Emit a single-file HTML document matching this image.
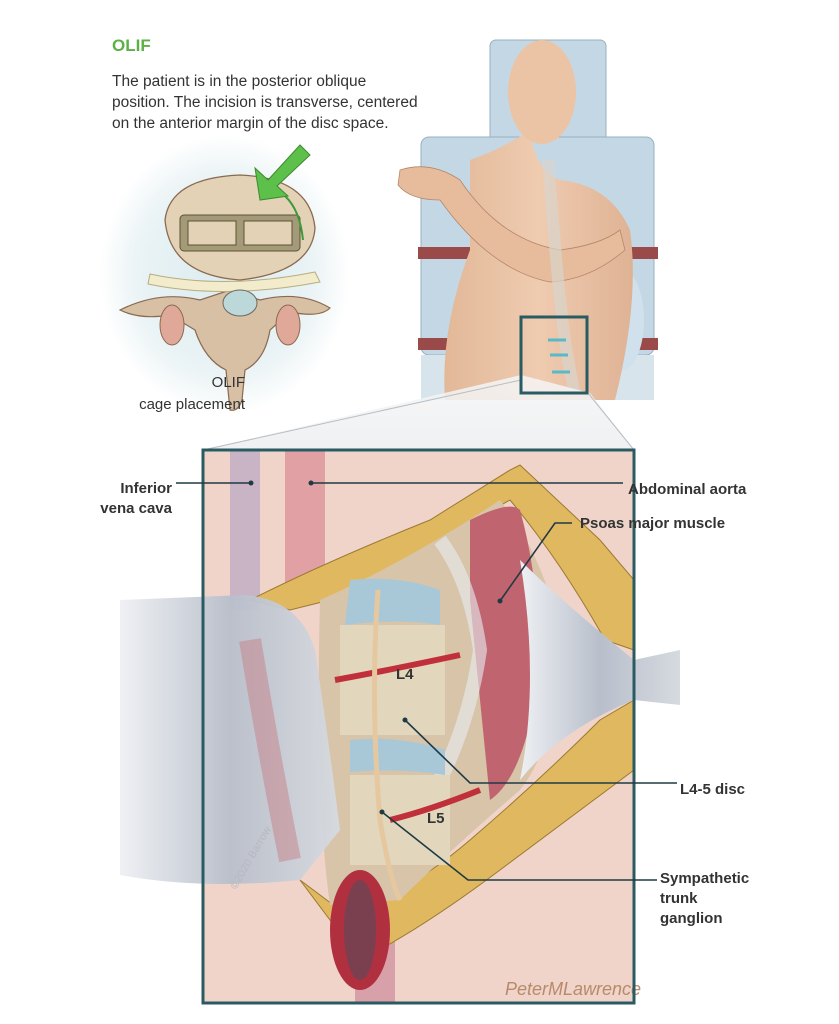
<!DOCTYPE html>
<html><head><meta charset="utf-8"><style>
html,body{margin:0;padding:0;background:#fff;width:839px;height:1024px;overflow:hidden}
svg{display:block}
text{font-family:"Liberation Sans",Arial,sans-serif}
</style></head><body>
<svg width="839" height="1024" viewBox="0 0 839 1024" xmlns="http://www.w3.org/2000/svg">
<defs>
<radialGradient id="glow" cx="0.5" cy="0.5" r="0.5"><stop offset="0" stop-color="#dcecf0"/><stop offset="0.7" stop-color="#eaf3f5"/><stop offset="1" stop-color="#fff"/></radialGradient>
<linearGradient id="funnel" x1="0" y1="0" x2="0" y2="1"><stop offset="0" stop-color="#f6f6f6"/><stop offset="1" stop-color="#eceef0"/></linearGradient>
<linearGradient id="ret" x1="0" y1="0" x2="1" y2="0"><stop offset="0" stop-color="#eef0f3"/><stop offset="0.5" stop-color="#b8bfcb"/><stop offset="1" stop-color="#d6dae0"/></linearGradient>
<linearGradient id="bodyg" x1="0" y1="0" x2="1" y2="0"><stop offset="0" stop-color="#e2b898"/><stop offset="0.5" stop-color="#efcbb0"/><stop offset="1" stop-color="#dfb294"/></linearGradient>
</defs>

<text x="112" y="51" font-size="17" font-weight="bold" fill="#5cb046">OLIF</text>
<text x="112" y="86" font-size="15.5" fill="#333">The patient is in the posterior oblique</text>
<text x="112" y="107" font-size="15.5" fill="#333">position. The incision is transverse, centered</text>
<text x="112" y="128" font-size="15.5" fill="#333">on the anterior margin of the disc space.</text>

<ellipse cx="225" cy="275" rx="125" ry="140" fill="url(#glow)"/>
<path d="M120 310 Q160 290 200 300 L230 290 L260 300 Q300 290 330 308 Q320 318 290 312 L270 330 Q265 360 245 370 L242 400 Q238 412 230 410 L226 370 Q205 360 195 330 L170 315 Q140 320 120 310Z" fill="#d8c0a4" stroke="#8a6a50" stroke-width="1.2"/>
<ellipse cx="172" cy="325" rx="12" ry="20" fill="#e0a898" stroke="#8a6a50"/>
<ellipse cx="288" cy="325" rx="12" ry="20" fill="#e0a898" stroke="#8a6a50"/>
<path d="M150 274 Q225 290 315 272 L320 282 Q225 300 148 284Z" fill="#f2eccc" stroke="#b8ad80"/>
<ellipse cx="240" cy="303" rx="17" ry="13" fill="#bcd8d8" stroke="#6a6a60"/>
<path d="M165 220 Q170 178 240 175 Q310 178 315 228 Q312 272 240 280 Q170 275 165 220Z" fill="#e3d2b6" stroke="#8a6a50" stroke-width="1.3"/>
<rect x="180" y="215" width="120" height="36" rx="4" fill="#a49a78" stroke="#5a5238"/>
<rect x="188" y="221" width="48" height="24" fill="#e3d2b6" stroke="#5a5238"/>
<rect x="244" y="221" width="48" height="24" fill="#e3d2b6" stroke="#5a5238"/>
<path d="M300 145 L268 180 L255 168 L260 200 L288 196 L277 186 L310 155Z" fill="#5cc04a" stroke="#3e8a30"/>
<path d="M285 196 Q300 210 303 240" fill="none" stroke="#3c9a3a" stroke-width="2"/>
<text x="245" y="387" font-size="15" fill="#333" text-anchor="end">OLIF</text>
<text x="245" y="409" font-size="15" fill="#333" text-anchor="end">cage placement</text>

<rect x="490" y="40" width="116" height="110" rx="6" fill="#c3d8e4" stroke="#9ab0c0"/>
<rect x="421" y="137" width="233" height="218" rx="8" fill="#c3d8e4" stroke="#9ab0c0"/>
<rect x="421" y="355" width="233" height="45" fill="#d8e4ec"/>
<rect x="418" y="247" width="240" height="12" fill="#9a4a48"/>
<rect x="418" y="338" width="240" height="12" fill="#9a4a48"/>
<ellipse cx="622" cy="320" rx="22" ry="50" fill="#d0e0ec"/>
<path d="M470 160 Q500 150 530 130 Q535 170 560 180 Q610 185 630 230 Q640 300 615 400 L445 400 Q440 330 470 250Z" fill="url(#bodyg)"/>
<ellipse cx="542" cy="92" rx="34" ry="52" fill="#ebc4a6"/>
<path d="M400 170 Q430 160 460 180 Q500 240 560 250 Q600 245 620 230 L625 250 Q590 280 550 282 Q490 270 440 200 Q410 200 398 185Z" fill="#e6bc9c" stroke="#b8866a" stroke-width="0.8"/>
<path d="M548 160 Q555 250 560 300 Q565 350 575 395" fill="none" stroke="#d8d4cc" stroke-width="12" opacity="0.7"/>
<path d="M548 340 h18 M550 355 h18 M552 372 h18" stroke="#5ab8c8" stroke-width="3"/>
<path d="M521 375 L203 450 L634 450 L590 393Z" fill="url(#funnel)" opacity="0.85"/>
<line x1="521" y1="380" x2="203" y2="450" stroke="#b8bec4" stroke-width="1"/>
<line x1="588" y1="393" x2="634" y2="450" stroke="#b8bec4" stroke-width="1"/>
<rect x="521" y="317" width="66" height="76" fill="none" stroke="#2a5a62" stroke-width="3"/>

<rect x="203" y="450" width="431" height="553" fill="#f0d4ca"/>
<rect x="230" y="450" width="30" height="160" fill="#c8b4c4"/>
<rect x="285" y="450" width="40" height="140" fill="#e0a0a4"/>
<rect x="355" y="870" width="40" height="133" fill="#d8a0a8"/>
<path d="M250 600 Q330 560 430 520 L510 470 L520 465 L600 540 L634 580 L634 650 L605 640 Q560 560 510 500 Q440 540 330 600 L290 610Z" fill="#e0b860" stroke="#9a7a30"/>
<path d="M300 880 L360 960 Q420 930 500 870 Q580 810 634 770 L634 700 L600 720 Q540 780 470 840 Q400 900 340 910Z" fill="#e0b860" stroke="#9a7a30"/>
<path d="M320 600 Q410 560 500 500 Q540 550 560 630 Q560 740 520 790 Q450 850 400 900 L330 905 Q315 800 320 600Z" fill="#d8c4a8"/>
<path d="M470 520 Q510 500 520 510 Q545 600 535 700 Q520 780 490 800 Q480 700 470 600Z" fill="#c06470"/>
<path d="M440 540 Q470 580 480 650 Q470 720 440 780" fill="none" stroke="#e8eef4" stroke-width="14" opacity="0.6"/>
<path d="M350 580 Q400 575 440 590 L440 625 Q400 618 345 625Z" fill="#a8c8d8"/>
<path d="M350 740 Q400 735 445 750 L445 775 Q400 768 350 772Z" fill="#a8c8d8"/>
<rect x="340" y="625" width="105" height="110" fill="#e2d6bc"/>
<rect x="350" y="775" width="100" height="90" fill="#e2d6bc"/>
<path d="M335 680 Q380 672 460 655" fill="none" stroke="#c0303a" stroke-width="6"/>
<path d="M390 820 Q430 810 480 790" fill="none" stroke="#c0303a" stroke-width="6"/>
<path d="M378 590 Q370 700 380 820 Q390 880 400 900" fill="none" stroke="#e6c8a0" stroke-width="5"/>
<ellipse cx="360" cy="930" rx="30" ry="60" fill="#b03040"/>
<ellipse cx="360" cy="930" rx="16" ry="50" fill="#7a4050"/>
<path d="M120 600 L245 595 Q300 600 315 650 Q330 750 340 830 L300 880 Q200 890 120 875Z" fill="url(#ret)" opacity="0.95"/>
<path d="M250 640 Q270 760 290 860" fill="none" stroke="#c58088" stroke-width="22" opacity="0.5"/>
<path d="M520 560 Q560 600 634 660 L680 650 L680 705 L634 700 Q560 730 520 780 Q540 680 520 560Z" fill="url(#ret)"/>
<text x="236" y="890" font-size="11" fill="#b8b8c0" transform="rotate(-60 236 890)">©2020 Barrow</text>
<text x="505" y="995" font-size="18" font-style="italic" fill="#b88a6a" font-family="Liberation Serif">PeterMLawrence</text>
<text x="396" y="679" font-size="15" font-weight="bold" fill="#333">L4</text>
<text x="427" y="823" font-size="15" font-weight="bold" fill="#333">L5</text>
<rect x="203" y="450" width="431" height="553" fill="none" stroke="#2a5a62" stroke-width="3"/>

<g stroke="#1f3a44" stroke-width="1.6" fill="none">
<path d="M176 483 H251"/><path d="M311 483 H623"/>
<path d="M572 523 L555 523 L500 601"/>
<path d="M405 720 L470 783 H677"/>
<path d="M382 812 L468 880 H657"/>
</g>
<g fill="#1f3a44"><circle cx="251" cy="483" r="2.5"/><circle cx="311" cy="483" r="2.5"/><circle cx="500" cy="601" r="2.5"/><circle cx="405" cy="720" r="2.5"/><circle cx="382" cy="812" r="2.5"/></g>

<g font-size="15" font-weight="bold" fill="#333">
<text x="172" y="493" text-anchor="end">Inferior</text>
<text x="172" y="513" text-anchor="end">vena cava</text>
<text x="628" y="494">Abdominal aorta</text>
<text x="580" y="528">Psoas major muscle</text>
<text x="680" y="794">L4-5 disc</text>
<text x="660" y="883">Sympathetic</text>
<text x="660" y="903">trunk</text>
<text x="660" y="923">ganglion</text>
</g>
</svg>
</body></html>
